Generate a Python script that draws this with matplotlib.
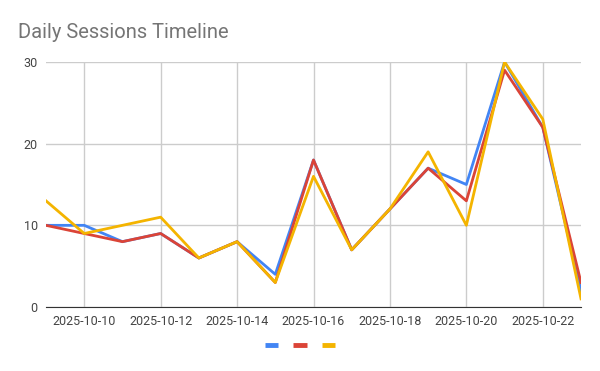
import numpy as np
import pandas as pd
import matplotlib
matplotlib.use("Agg")
import matplotlib.pyplot as plt
import matplotlib.dates as mdates

plt.rcParams['font.family'] = ['Roboto', 'DejaVu Sans']

### data
dates = pd.date_range("2025-10-09", "2025-10-23", freq="D")
blue = [10, 10, 8, 9, 6, 8, 4, 18, 7, 12, 17, 15, 30, 22, 2]
red = [10, 9, 8, 9, 6, 8, 3, 18, 7, 12, 17, 13, 29, 22, 3]
yellow = [13, 9, 10, 11, 6, 8, 3, 16, 7, 12, 19, 10, 30, 23, 1]
y_ticks = [0, 10, 20, 30]

fig = plt.figure(figsize=(6, 3.71), dpi=100)
ax = fig.add_axes([46/600, 1-307/371, (581-46)/600, (307-62)/371])

l1, = ax.plot(dates, blue, color='#4285f4', lw=2)
l2, = ax.plot(dates, red, color='#db4437', lw=2)
l3, = ax.plot(dates, yellow, color='#f4b400', lw=2)

ax.set_xlim(dates[0], dates[-1])
ax.set_ylim(0, 30)
ax.set_yticks(y_ticks)
ax.xaxis.set_major_locator(mdates.DayLocator(bymonthday=[10, 12, 14, 16, 18, 20, 22]))
ax.xaxis.set_major_formatter(mdates.DateFormatter('%Y-%m-%d'))
ax.grid(True, color='#cccccc', lw=1)
ax.set_axisbelow(True)
for s in ['top', 'right', 'left']:
    ax.spines[s].set_visible(False)
ax.spines['bottom'].set_color('#333333')
ax.tick_params(length=0, labelsize=9, colors='#444444', pad=6)

fig.text(18/600, 1-32/371, 'Daily Sessions Timeline', fontsize=14.5,
         color='#757575', va='center', ha='left')

leg = fig.legend([l1, l2, l3], ['', '', ''], loc='center', bbox_to_anchor=(300/600, 1-346/371),
                 ncol=3, frameon=False, handlelength=0.95, handletextpad=0, columnspacing=1.1)
for h in leg.legend_handles:
    h.set_linewidth(3.5)
    h.set_solid_capstyle('butt')

fig.savefig('out.png', dpi=100)
